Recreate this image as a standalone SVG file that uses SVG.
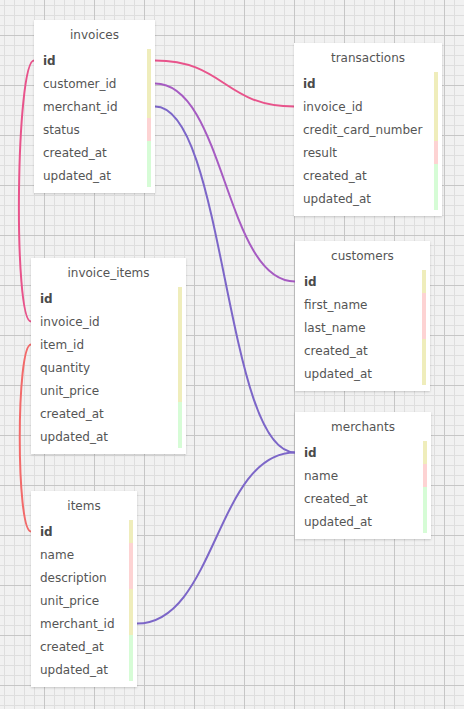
<svg xmlns="http://www.w3.org/2000/svg" width="464" height="709" viewBox="0 0 464 709">
<style>
.box{fill:#ffffff;filter:url(#sh)}
.t{font-family:"DejaVu Sans",Verdana,sans-serif;font-size:12px;fill:#555555}
.title{text-anchor:middle}
.pk{font-weight:bold;fill:#4a4a4a}
.y{fill:#efedbb}
.p{fill:#fdd3d3}
.g{fill:#d6fcd6}
.c{fill:none;stroke-width:2}
</style>
<defs>
<filter id="sh" x="-10%" y="-10%" width="120%" height="120%">
<feDropShadow dx="0" dy="1" stdDeviation="1" flood-color="#000" flood-opacity="0.18"/>
</filter>
<pattern id="grid" patternUnits="userSpaceOnUse" x="4" y="5" width="50" height="50">
<rect width="50" height="50" fill="#f1f1f1"/>
<path d="M0.5 0V50M10.5 0V50M20.5 0V50M30.5 0V50M40.5 0V50M0 0.5H50M0 10.5H50M0 20.5H50M0 30.5H50M0 40.5H50" stroke="#dedede" stroke-width="1"/>
<path d="M40.5 0V50M0 30.5H50" stroke="#c6c6c6" stroke-width="1"/>
</pattern>
</defs>
<rect width="464" height="709" fill="url(#grid)"/>

<g id="connectors">
<path class="c" stroke="#e8538b" d="M155,60.5 C224.5,60.5 224.5,106.5 294,106.5"/>
<path class="c" stroke="#a65bc2" d="M155,83.5 C225,83.5 225,281.5 295,281.5"/>
<path class="c" stroke="#7c66c8" d="M155,106.5 C225,106.5 225,452.5 295,452.5"/>
<path class="c" stroke="#7c66c8" d="M137,623.5 C216,623.5 216,452.5 295,452.5"/>
<path class="c" stroke="#e8538b" d="M34,60.5 C16,60.5 13,321.5 31,321.5"/>
<path class="c" stroke="#f26a6a" d="M31,344.5 C16,344.5 16,531.5 31,531.5"/>
</g>

<g id="invoices">
<rect class="box" x="34" y="20" width="121" height="173"/>
<text class="t title" x="94.5" y="39">invoices</text>
<rect class="y" x="147" y="49" width="4" height="69"/>
<rect class="p" x="147" y="118" width="4" height="23"/>
<rect class="g" x="147" y="141" width="4" height="46"/>
<text class="t pk" x="43" y="65">id</text>
<text class="t" x="43" y="88">customer_id</text>
<text class="t" x="43" y="111">merchant_id</text>
<text class="t" x="43" y="134">status</text>
<text class="t" x="43" y="157">created_at</text>
<text class="t" x="43" y="180">updated_at</text>
</g>

<g id="transactions">
<rect class="box" x="294" y="43" width="148" height="173"/>
<text class="t title" x="368" y="62">transactions</text>
<rect class="y" x="434" y="72" width="4" height="69"/>
<rect class="p" x="434" y="141" width="4" height="23"/>
<rect class="g" x="434" y="164" width="4" height="46"/>
<text class="t pk" x="303" y="88">id</text>
<text class="t" x="303" y="111">invoice_id</text>
<text class="t" x="303" y="134">credit_card_number</text>
<text class="t" x="303" y="157">result</text>
<text class="t" x="303" y="180">created_at</text>
<text class="t" x="303" y="203">updated_at</text>
</g>

<g id="invoice_items">
<rect class="box" x="31" y="258" width="155" height="196"/>
<text class="t title" x="108.5" y="277">invoice_items</text>
<rect class="y" x="178" y="287" width="4" height="115"/>
<rect class="g" x="178" y="402" width="4" height="46"/>
<text class="t pk" x="40" y="303">id</text>
<text class="t" x="40" y="326">invoice_id</text>
<text class="t" x="40" y="349">item_id</text>
<text class="t" x="40" y="372">quantity</text>
<text class="t" x="40" y="395">unit_price</text>
<text class="t" x="40" y="418">created_at</text>
<text class="t" x="40" y="441">updated_at</text>
</g>

<g id="items">
<rect class="box" x="31" y="491" width="106" height="196"/>
<text class="t title" x="84" y="510">items</text>
<rect class="y" x="129" y="520" width="4" height="23"/>
<rect class="p" x="129" y="543" width="4" height="46"/>
<rect class="y" x="129" y="589" width="4" height="46"/>
<rect class="g" x="129" y="635" width="4" height="46"/>
<text class="t pk" x="40" y="536">id</text>
<text class="t" x="40" y="559">name</text>
<text class="t" x="40" y="582">description</text>
<text class="t" x="40" y="605">unit_price</text>
<text class="t" x="40" y="628">merchant_id</text>
<text class="t" x="40" y="651">created_at</text>
<text class="t" x="40" y="674">updated_at</text>
</g>

<g id="customers">
<rect class="box" x="295" y="241" width="135" height="150"/>
<text class="t title" x="362.5" y="260">customers</text>
<rect class="y" x="422" y="270" width="4" height="23"/>
<rect class="p" x="422" y="293" width="4" height="46"/>
<rect class="y" x="422" y="339" width="4" height="46"/>
<text class="t pk" x="304" y="286">id</text>
<text class="t" x="304" y="309">first_name</text>
<text class="t" x="304" y="332">last_name</text>
<text class="t" x="304" y="355">created_at</text>
<text class="t" x="304" y="378">updated_at</text>
</g>

<g id="merchants">
<rect class="box" x="295" y="412" width="136" height="127"/>
<text class="t title" x="363" y="431">merchants</text>
<rect class="y" x="423" y="441" width="4" height="23"/>
<rect class="p" x="423" y="464" width="4" height="23"/>
<rect class="g" x="423" y="487" width="4" height="46"/>
<text class="t pk" x="304" y="457">id</text>
<text class="t" x="304" y="480">name</text>
<text class="t" x="304" y="503">created_at</text>
<text class="t" x="304" y="526">updated_at</text>
</g>
</svg>
